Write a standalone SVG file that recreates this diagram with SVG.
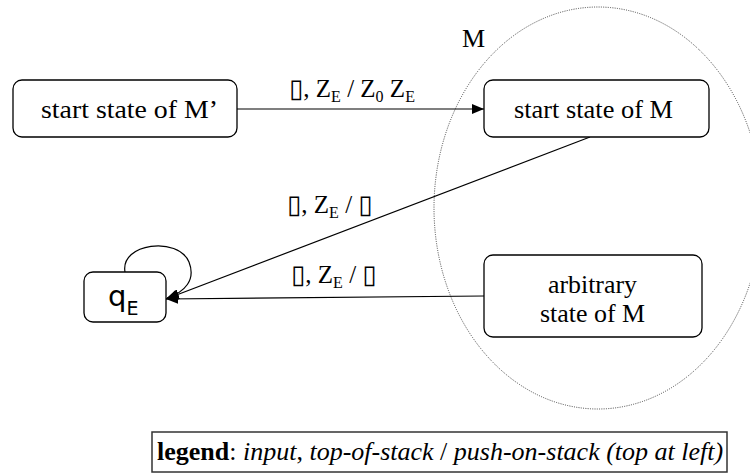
<svg xmlns="http://www.w3.org/2000/svg" width="750" height="473" viewBox="0 0 750 473">
<style>
.node rect{fill:#fff;stroke:#000;stroke-width:1.3}
.t{font-family:"Liberation Serif","Times New Roman",serif;font-size:26px;fill:#000}
.lab{font-family:"Liberation Serif","DejaVu Sans",serif;font-size:25px;fill:#000}
.sub{font-size:16px}
.box{font-family:"DejaVu Sans",sans-serif;font-size:26px}
.edge{fill:none;stroke:#000;stroke-width:1.2}
</style>
<defs>
<marker id="ah" viewBox="0 0 12 10" refX="12" refY="5" markerWidth="12" markerHeight="10" markerUnits="userSpaceOnUse" orient="auto">
<path d="M0,0 L12,5 L0,10 z" fill="#000"/>
</marker>
</defs>
<g id="machineM">
<ellipse cx="598" cy="208" rx="164" ry="201" fill="none" stroke="#444" stroke-width="1" stroke-dasharray="1 1.3"/>
<text class="t" x="462" y="47" font-size="24">M</text>
</g>
<g id="connectors">
<line class="edge" x1="237" y1="109" x2="484" y2="109" marker-end="url(#ah)"/>
<line class="edge" x1="590" y1="137" x2="166" y2="299" marker-end="url(#ah)"/>
<line class="edge" x1="484" y1="296" x2="166" y2="299" marker-end="url(#ah)"/>
<path class="edge" d="M125,272 C120,243 178,236 189,262 C196,280 185,292 167,298" marker-end="url(#ah)"/>
<text class="lab" x="289" y="97"><tspan class="box">▯</tspan>, Z<tspan class="sub" dy="5">E</tspan><tspan dy="-5"> / Z</tspan><tspan class="sub" dy="5">0</tspan><tspan dy="-5"> Z</tspan><tspan class="sub" dy="5">E</tspan></text>
<text class="lab" x="287" y="213"><tspan class="box">▯</tspan>, Z<tspan class="sub" dy="5">E</tspan><tspan dy="-5"> / </tspan><tspan class="box">▯</tspan></text>
<text class="lab" x="291" y="283"><tspan class="box">▯</tspan>, Z<tspan class="sub" dy="5">E</tspan><tspan dy="-5"> / </tspan><tspan class="box">▯</tspan></text>
</g>
<g id="startMprime" class="node">
<rect x="13" y="80" width="224" height="57" rx="9"/>
<text class="t" x="41" y="118" textLength="177" lengthAdjust="spacingAndGlyphs">start state of M’</text>
</g>
<g id="startM" class="node">
<rect x="484" y="80" width="225" height="57" rx="9"/>
<text class="t" x="514" y="118" textLength="159" lengthAdjust="spacingAndGlyphs">start state of M</text>
</g>
<g id="arbitrary" class="node">
<rect x="484" y="255" width="218" height="82" rx="9"/>
<text class="t" x="548" y="293" textLength="89" lengthAdjust="spacingAndGlyphs">arbitrary</text>
<text class="t" x="540" y="322" textLength="105" lengthAdjust="spacingAndGlyphs">state of M</text>
</g>
<g id="qE" class="node">
<rect x="84" y="272" width="82" height="50" rx="9"/>
<text x="108" y="306" font-family="'DejaVu Sans',sans-serif" font-size="29">q<tspan font-size="19" dy="9">E</tspan></text>
</g>
<g id="legend">
<rect x="152" y="432" width="575" height="40" fill="#fff" stroke="#333" stroke-width="1.5"/>
<text class="t" x="157" y="460" font-size="25"><tspan font-weight="bold">legend</tspan>: <tspan font-style="italic">input</tspan>, <tspan font-style="italic">top-of-stack</tspan> / <tspan font-style="italic">push-on-stack (top at left)</tspan></text>
</g>
</svg>
